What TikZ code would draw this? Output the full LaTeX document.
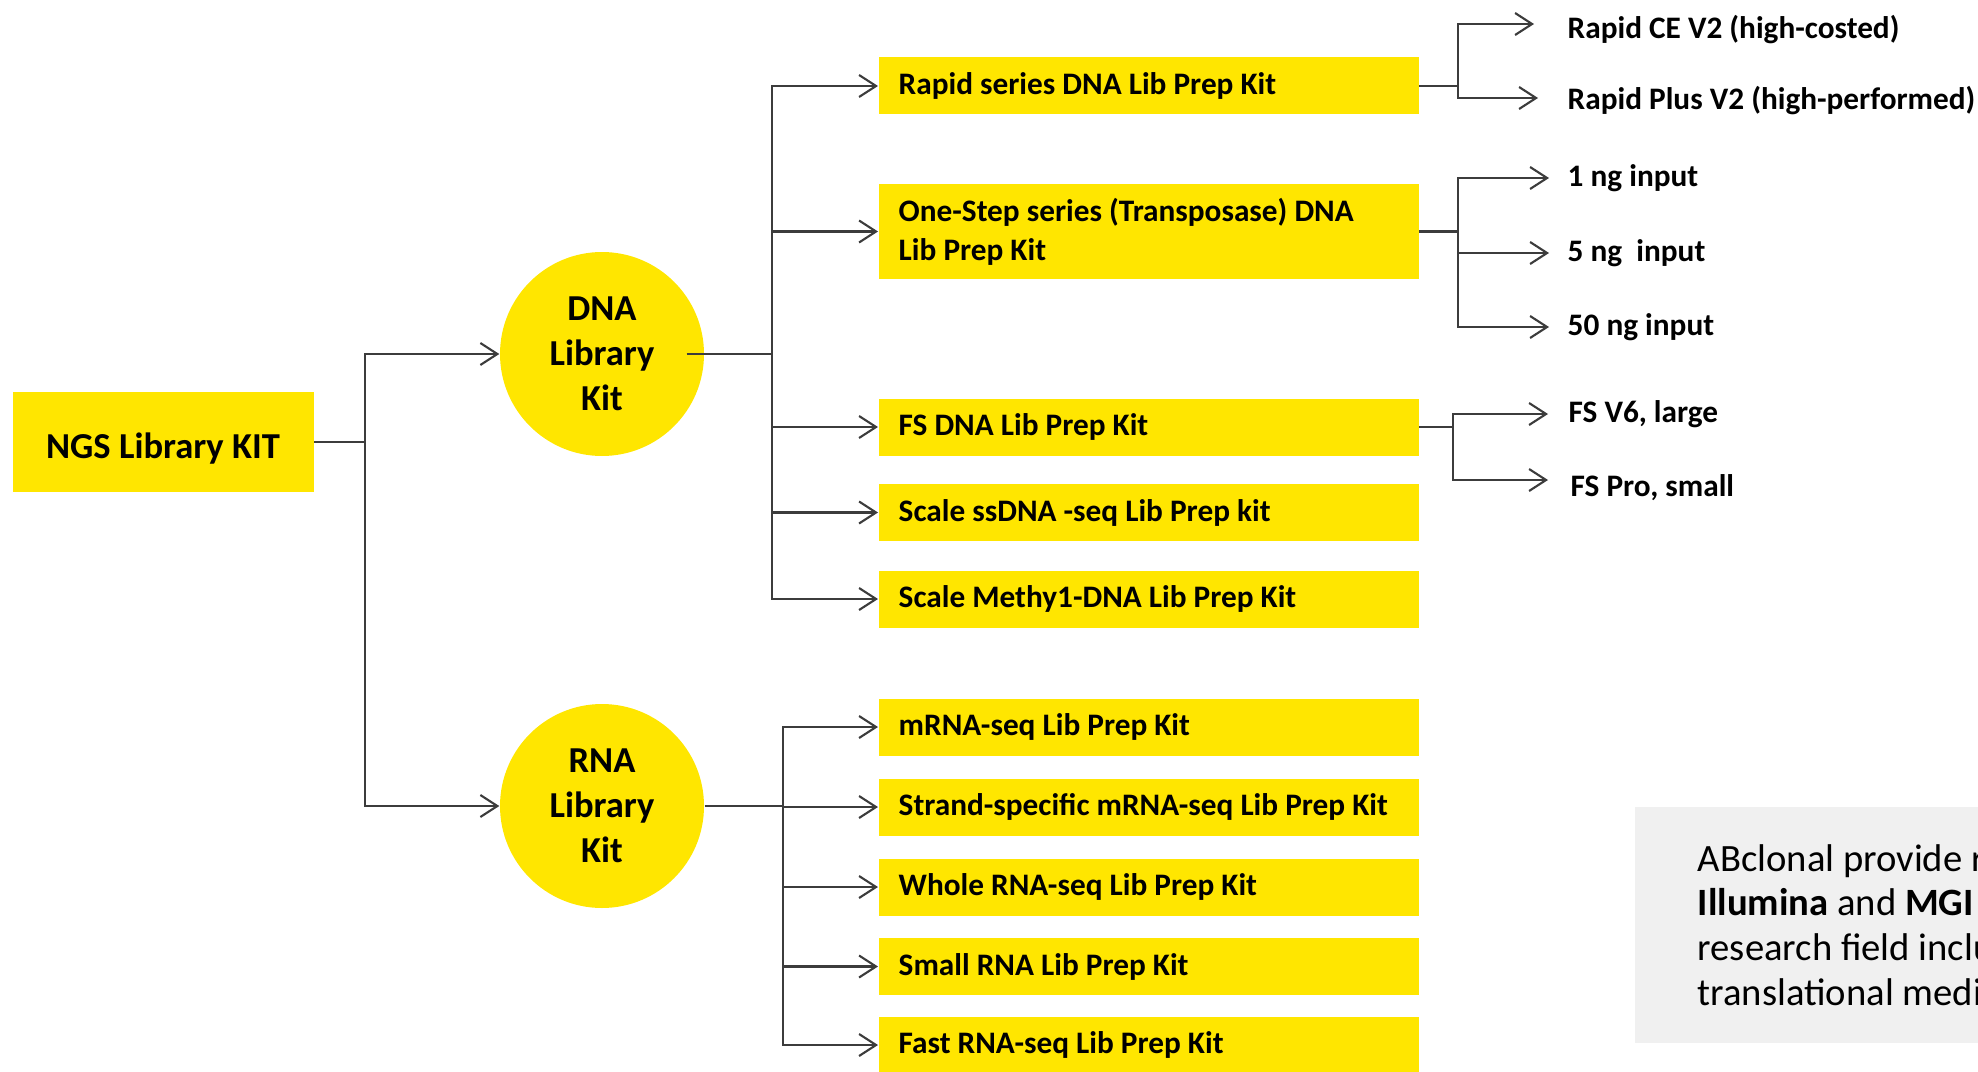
\documentclass[tikz,border=0pt]{standalone}
\usepackage{fontspec}
\setmainfont{Carlito}
\usetikzlibrary{arrows.meta}
\definecolor{kityellow}{RGB}{255,230,0}
\definecolor{notegray}{RGB}{240,240,240}
\definecolor{linegray}{RGB}{60,60,60}

\begin{document}
\begin{tikzpicture}[
  >={Straight Barb[length=1.7mm, width=2.2mm]},
  every node/.style={font=\fontsize{8.9}{11.1}\selectfont\bfseries},
  rootbox/.style={rectangle, fill=kityellow, minimum width=3.01cm, minimum height=1cm, text height=3.2mm, text depth=0pt, font=\fontsize{10.4}{12.8}\selectfont\bfseries},
  kitcircle/.style={circle, fill=kityellow, minimum size=2.04cm, inner sep=0pt, align=center, font=\fontsize{10.4}{12.8}\selectfont\bfseries},
  kitbox/.style={rectangle, fill=kityellow, anchor=west, minimum height=5.7mm, text width=5.0cm, inner xsep=2mm, align=left,
    execute at begin node={\spaceskip=0pt\xspaceskip=0pt}},
  optlabel/.style={anchor=west, inner sep=0pt},
  note/.style={rectangle, fill=notegray, anchor=west, minimum height=2.36cm, inner xsep=6.3mm, align=left, font=\fontsize{11}{12.7}\selectfont,
    execute at begin node={\spaceskip=0pt\xspaceskip=0pt}},
  branch/.style={line width=0.6pt, draw=linegray},
  kitedge/.style={->, line width=0.6pt, draw=linegray},
  optedge/.style={->, line width=0.6pt, draw=linegray, shorten >=1.8mm},
]

\useasboundingbox (0, 0) rectangle (19.78, -10.71);
\clip (0, 0) rectangle (19.78, -10.71);

% ---- root ----
\node[rootbox] (ngs) at (1.63, -4.42) {NGS Library KIT};

% ---- library kits ----
\node[kitcircle] (dna) at (6.02, -3.54) {DNA\\Library\\Kit};
\node[kitcircle] (rna) at (6.02, -8.06) {RNA\\Library\\Kit};

% ---- DNA kits ----
\node[kitbox] (rapid)   at (8.78, -0.86)  {Rapid series DNA Lib Prep Kit};
\node[kitbox, minimum height=9.5mm] (onestep) at (8.78, -2.315) {One-Step series (Transposase) DNA\\Lib Prep Kit};
\node[kitbox] (fs)      at (8.78, -4.27)  {FS DNA Lib Prep Kit};
\node[kitbox] (ssdna)   at (8.78, -5.125) {Scale ssDNA -seq Lib Prep kit};
\node[kitbox] (methyl)  at (8.78, -5.99)  {Scale Methy1-DNA Lib Prep Kit};

% ---- RNA kits ----
\node[kitbox] (mrna)   at (8.78, -7.27)  {mRNA-seq Lib Prep Kit};
\node[kitbox] (strand) at (8.78, -8.07)  {\mbox{Strand-specific mRNA-seq Lib Prep Kit}};
\node[kitbox] (whole)  at (8.78, -8.87)  {Whole RNA-seq Lib Prep Kit};
\node[kitbox] (small)  at (8.78, -9.665) {Small RNA Lib Prep Kit};
\node[kitbox] (fast)   at (8.78, -10.45) {Fast RNA-seq Lib Prep Kit};

% ---- versions ----
\node[optlabel] (rapidce)   at (15.67, -0.30) {Rapid CE V2 (high-costed)};
\node[optlabel] (rapidplus) at (15.67, -1.01) {Rapid Plus V2 (high-performed)};
\node[optlabel] (in1)       at (15.67, -1.78) {1 ng input};
\node[optlabel] (in5)       at (15.67, -2.53) {5 ng\ \ input};
\node[optlabel] (in50)      at (15.67, -3.27) {50 ng input};
\node[optlabel] (fsv6)      at (15.68, -4.14) {FS V6, large};
\node[optlabel] (fspro)     at (15.70, -4.88) {FS Pro, small};

% ---- note ----
\node[note] (note) at (16.34, -9.25) {ABclonal provide re\\\textbf{Illumina} and \textbf{MGI} p\\research field inclu\\translational medic};

% ---- forks ----
\coordinate (rootfork)    at (3.65, -4.42);
\coordinate (dnafork)     at (7.72, -3.54);
\coordinate (rnafork)     at (7.83, -8.06);
\coordinate (rapidfork)   at (14.58, -0.86);
\coordinate (onestepfork) at (14.58, -2.315);
\coordinate (fsfork)      at (14.53, -4.27);

% ---- root edges ----
\draw[branch] (ngs.east) -- (rootfork);
\draw[kitedge] (rootfork) |- (dna.west);
\draw[kitedge] (rootfork) |- (rna.west);

% ---- DNA edges ----
\draw[branch] ([xshift=-1.8mm]dna.east) -- (dnafork);
\draw[kitedge] (dnafork) |- (rapid.west);
\draw[kitedge] (dnafork) |- (onestep.west);
\draw[kitedge] (dnafork) |- (fs.west);
\draw[kitedge] (dnafork) |- (ssdna.west);
\draw[kitedge] (dnafork) |- (methyl.west);

% ---- RNA edges ----
\draw[branch] (rna.east) -- (rnafork);
\draw[kitedge] (rnafork) |- (mrna.west);
\draw[kitedge] (rnafork) |- (strand.west);
\draw[kitedge] (rnafork) |- (whole.west);
\draw[kitedge] (rnafork) |- (small.west);
\draw[kitedge] (rnafork) |- (fast.west);

% ---- version edges ----
\draw[branch] (rapid.east) -- (rapidfork);
\draw[optedge, shorten >=3.3mm] (rapidfork) |- ([yshift=0.06cm]rapidce.west);
\draw[optedge, shorten >=2.9mm] (rapidfork) |- ([yshift=0.03cm]rapidplus.west);
\draw[branch] (onestep.east) -- (onestepfork);
\draw[optedge] (onestepfork) |- (in1.west);
\draw[optedge] (onestepfork) |- (in5.west);
\draw[optedge] (onestepfork) |- (in50.west);
\draw[branch] (fs.east) -- (fsfork);
\draw[optedge, shorten >=2mm] (fsfork) |- (fsv6.west);
\draw[optedge, shorten >=2.2mm] (fsfork) |- ([yshift=0.08cm]fspro.west);

\end{tikzpicture}
\end{document}
